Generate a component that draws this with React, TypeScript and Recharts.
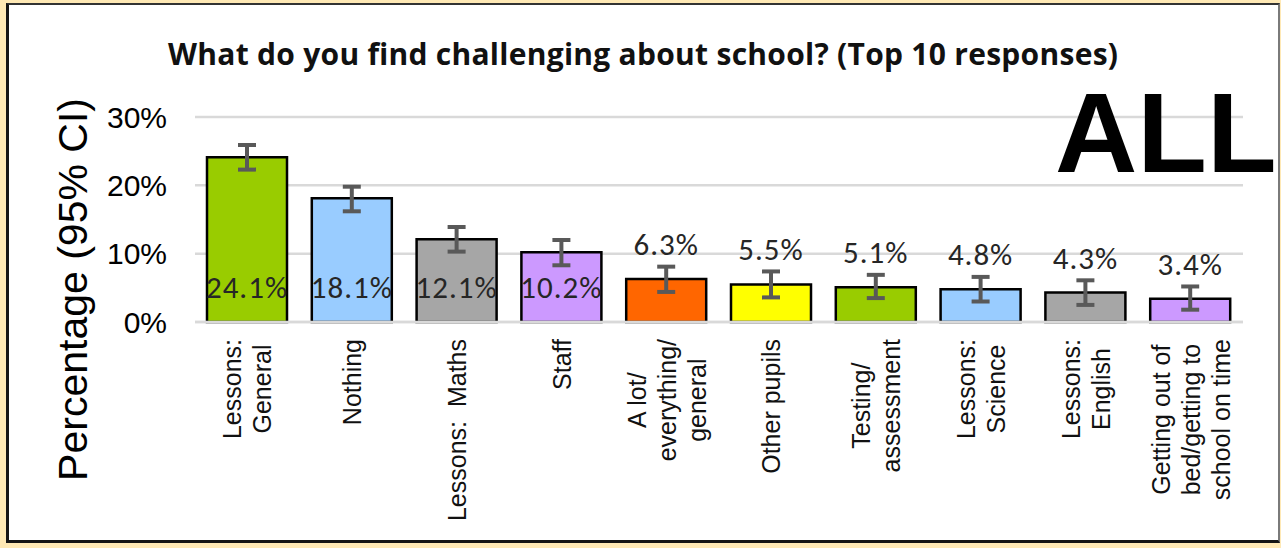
import React from 'react';
import { BarChart, Bar, XAxis, YAxis, CartesianGrid, ErrorBar, LabelList, Cell } from 'recharts';

const categories = [
  'Lessons: General',
  'Nothing',
  'Lessons: Maths',
  'Staff',
  'A lot/ everything/ general',
  'Other pupils',
  'Testing/ assessment',
  'Lessons: Science',
  'Lessons: English',
  'Getting out of bed/getting to school on time',
];
const tickLines = [
  ['Lessons:', 'General'],
  ['Nothing'],
  ['Lessons:  Maths'],
  ['Staff'],
  ['A lot/', 'everything/', 'general'],
  ['Other pupils'],
  ['Testing/', 'assessment'],
  ['Lessons:', 'Science'],
  ['Lessons:', 'English'],
  ['Getting out of', 'bed/getting to', 'school on time'],
];
const values = [24.1, 18.1, 12.1, 10.2, 6.3, 5.5, 5.1, 4.8, 4.3, 3.4];
const errorLow = [1.8, 1.9, 1.8, 1.9, 1.9, 1.9, 1.6, 1.8, 1.8, 1.6];
const errorHigh = [1.8, 1.7, 1.8, 1.8, 1.8, 1.9, 1.8, 1.8, 1.8, 1.8];
const barColors = ['#99CC00', '#99CCFF', '#A6A6A6', '#CC99FF', '#FF6600', '#FFFF00', '#99CC00', '#99CCFF', '#A6A6A6', '#CC99FF'];
const yTicks = [0, 10, 20, 30];
const title = 'What do you find challenging about school? (Top 10 responses)';
const yLabel = 'Percentage (95% CI)';
const badge = 'ALL';

const data = categories.map((c, i) => ({
  name: c,
  value: values[i],
  err: [errorLow[i], errorHigh[i]],
}));

const ARIAL = '"Liberation Sans", Arial, sans-serif';
const CALIBRI = 'Carlito, Lato, sans-serif';
const TITLE_FONT = '"Open Sans", Lato, sans-serif';

let ctx: CanvasRenderingContext2D | null = null;
function measure(text: string, font: string): number {
  if (!ctx) ctx = document.createElement('canvas').getContext('2d');
  if (!ctx) return text.length * 12;
  ctx.font = font;
  return ctx.measureText(text).width;
}

const XTick = (props: any) => {
  const { x, y, payload } = props;
  const idx = categories.indexOf(payload.value);
  const lines = idx >= 0 ? tickLines[idx] : [String(payload.value)];
  const fs = 25;
  const font = `${fs}px "Liberation Sans"`;
  const maxLen = Math.max(...lines.map((l) => measure(l, font)));
  const lh = 30;
  return (
    <g transform={`translate(${x},${y}) rotate(-90)`}>
      {lines.map((l, i) => (
        <text
          key={i}
          x={-maxLen / 2}
          y={(i - (lines.length - 1) / 2) * lh}
          textAnchor="middle"
          dominantBaseline="central"
          fontSize={fs}
          fontFamily={ARIAL}
          fill="#111"
          style={{ whiteSpace: 'pre' }}
        >
          {l}
        </text>
      ))}
    </g>
  );
};

const renderValueLabel = (props: any) => {
  const { x, y, width, height, value } = props;
  const cx = x + width / 2;
  const cy = value >= 10 ? y + height - 35 : y - 35;
  return (
    <text
      x={cx}
      y={cy}
      textAnchor="middle"
      dominantBaseline="central"
      fontSize={31}
      letterSpacing={1}
      fontFamily={CALIBRI}
      fill="#262626"
    >
      {`${Number(value).toFixed(1)}%`}
    </text>
  );
};

const renderYLabel = (props: any) => {
  const vb = props.viewBox || { x: 66, y: 112, width: 120, height: 205 };
  const cx = vb.x - 2;
  const cy = vb.y + vb.height / 2 + 70;
  return (
    <text
      x={cx}
      y={cy}
      transform={`rotate(-90, ${cx}, ${cy})`}
      textAnchor="middle"
      dominantBaseline="central"
      fontSize={41}
      fontFamily={ARIAL}
      fill="#000"
    >
      {yLabel}
    </text>
  );
};

export default function App() {
  const W = 1269;
  const H = 535;
  return (
    <div style={{ position: 'absolute', left: 0, top: 0, width: 1281, height: 548, background: '#FFE9B5' }}>
      <div
        style={{
          position: 'absolute',
          left: 6,
          top: 3,
          width: 1274,
          height: 540,
          boxSizing: 'border-box',
          borderLeft: '3px solid #151515',
          borderBottom: '3px solid #151515',
          borderTop: '2px solid #333',
          borderRight: '2px solid #7a7a7a',
          background: '#fff',
          overflow: 'hidden',
        }}
      >
        <div style={{ position: 'absolute', left: 0, top: 0 }}>
          <BarChart width={W} height={H} data={data} margin={{ top: 112, right: 35, bottom: 0, left: 66 }}>
            <CartesianGrid vertical={false} stroke="#D9D9D9" strokeWidth={2.5} />
            <XAxis
              dataKey="name"
              interval={0}
              height={218}
              tickSize={0}
              tickMargin={17}
              tickLine={false}
              axisLine={{ stroke: '#D9D9D9', strokeWidth: 2.5 }}
              tick={<XTick />}
            />
            <YAxis
              width={120}
              domain={[0, 30]}
              ticks={yTicks}
              tickFormatter={(v: number) => `${v}%`}
              tickSize={0}
              tickMargin={28}
              tickLine={false}
              axisLine={false}
              tick={{ fontSize: 30, fontFamily: ARIAL, fill: '#000' }}
              label={{ content: renderYLabel }}
            />
            <Bar dataKey="value" barSize={80} stroke="#000" strokeWidth={2.5} isAnimationActive={false}>
              {data.map((d, i) => (
                <Cell key={d.name} fill={barColors[i]} />
              ))}
              <ErrorBar dataKey="err" width={9} stroke="#595959" strokeWidth={4} direction="y" />
              <LabelList dataKey="value" content={renderValueLabel} />
            </Bar>
          </BarChart>
        </div>
        <svg width={W} height={H} style={{ position: 'absolute', left: 0, top: 0, pointerEvents: 'none' }}>
          <text
            x={634}
            y={60}
            textAnchor="middle"
            fontSize={30}
            fontWeight="bold"
            fontFamily={TITLE_FONT}
            fill="#111"
            textLength={950}
            lengthAdjust="spacing"
          >
            {title}
          </text>
          <text x={1046} y={167} fontSize={114} fontWeight="bold" fontFamily={ARIAL} fill="#000">
            {badge}
          </text>
        </svg>
      </div>
    </div>
  );
}
